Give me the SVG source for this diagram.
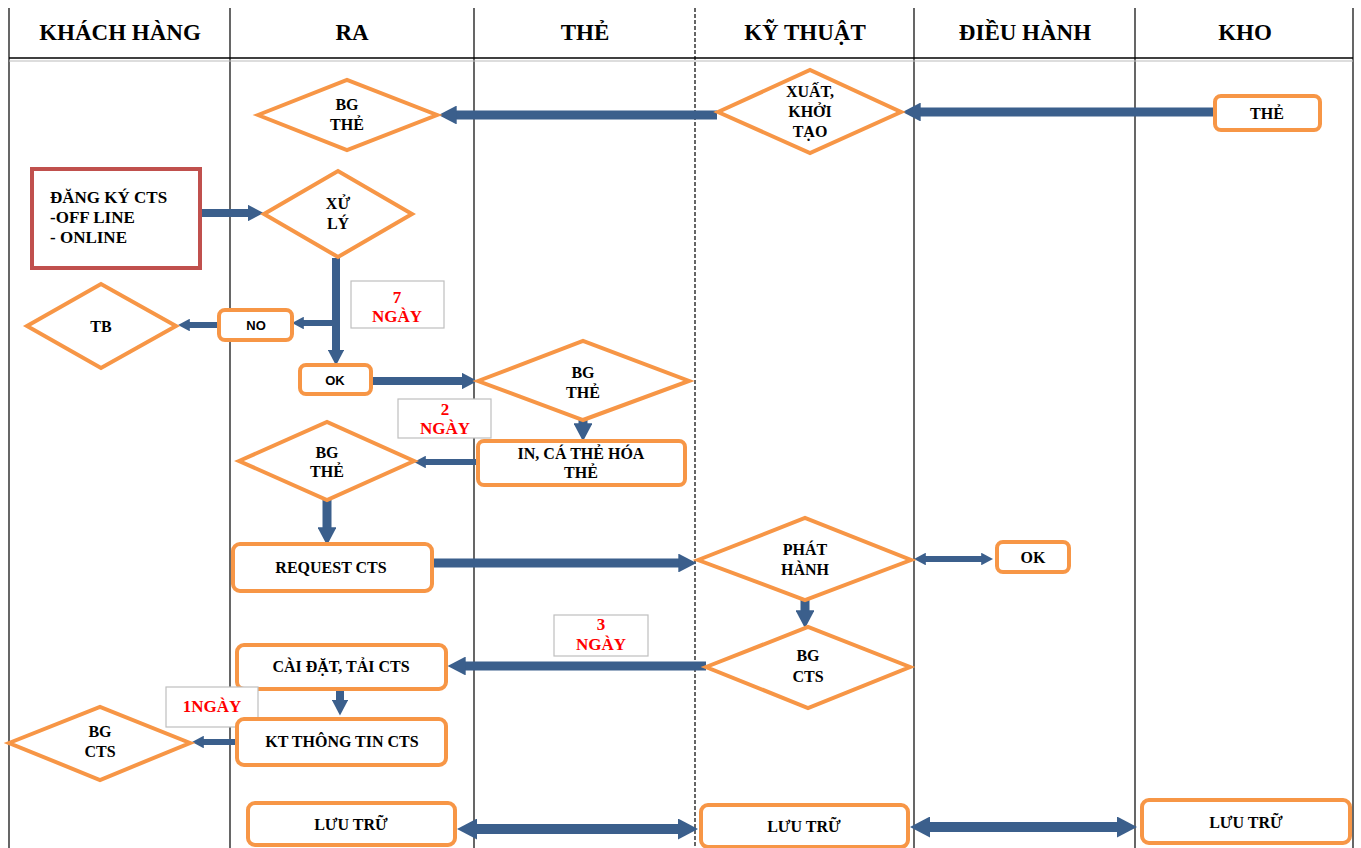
<svg xmlns="http://www.w3.org/2000/svg" width="1361" height="848" viewBox="0 0 1361 848">
<style>
.t{font-family:"Liberation Serif","Times New Roman",serif;font-weight:bold;font-size:16px;fill:#000;text-anchor:middle}
.h{font-size:23px}
.s{font-family:"Liberation Sans",Arial,sans-serif;font-size:13px}
.r{fill:#ff0000;font-size:17px}
.n{fill:#fff;stroke:#f79646;stroke-width:4}
.lb{fill:#fff;stroke:#bfbfbf;stroke-width:1.2}
.lane{stroke:#000;stroke-width:1.2;fill:none}
.a{stroke:#3b5f8c;fill:none;marker-end:url(#ah)}
.d{marker-start:url(#ah)}
</style>
<defs>
<marker id="ah" viewBox="0 0 2 2.1" refX="0.3" refY="1.05" markerWidth="2" markerHeight="2.1" orient="auto-start-reverse"><path d="M0,0 L2,1.05 L0,2.1 z" fill="#3b5f8c"/></marker>
</defs>
<rect width="1361" height="848" fill="#fff"/>
<g id="lanes">
<line class="lane" x1="9" y1="8" x2="9" y2="848"/>
<line class="lane" x1="230" y1="8" x2="230" y2="848"/>
<line class="lane" x1="474" y1="8" x2="474" y2="848"/>
<line class="lane" x1="695" y1="8" x2="695" y2="848" stroke-dasharray="4,2"/>
<line class="lane" x1="914" y1="8" x2="914" y2="848"/>
<line class="lane" x1="1135" y1="8" x2="1135" y2="848"/>
<line class="lane" x1="1353" y1="8" x2="1353" y2="848"/>
<line x1="9" y1="58" x2="1353" y2="58" stroke="#000" stroke-width="1.5"/>
<line x1="9" y1="61" x2="1353" y2="61" stroke="#bbb" stroke-width="1"/>
<text class="t h" x="120" y="40">KHÁCH HÀNG</text>
<text class="t h" x="352" y="40">RA</text>
<text class="t h" x="585" y="40">THẺ</text>
<text class="t h" x="805" y="40">KỸ THUẬT</text>
<text class="t h" x="1025" y="40">ĐIỀU HÀNH</text>
<text class="t h" x="1245" y="40">KHO</text>
</g>
<g id="connectors">
<line class="a" x1="1213" y1="112" x2="918" y2="112" stroke-width="9"/>
<line class="a" x1="717" y1="115" x2="454" y2="115" stroke-width="9"/>
<line class="a" x1="200" y1="213" x2="250" y2="213" stroke-width="8"/>
<line class="a" x1="336" y1="258" x2="336" y2="352" stroke-width="8"/>
<line class="a" x1="334" y1="323" x2="302" y2="323" stroke-width="6"/>
<line class="a" x1="219" y1="325" x2="188" y2="325" stroke-width="6"/>
<line class="a" x1="371" y1="381" x2="464" y2="381" stroke-width="8"/>
<line class="a" x1="583" y1="420" x2="583" y2="426" stroke-width="9"/>
<line class="a" x1="477" y1="462" x2="424" y2="462" stroke-width="6"/>
<line class="a" x1="327" y1="500" x2="327" y2="530" stroke-width="9"/>
<line class="a" x1="432" y1="563" x2="681" y2="563" stroke-width="9"/>
<line class="a d" x1="924" y1="559" x2="983" y2="559" stroke-width="6"/>
<line class="a" x1="805" y1="600" x2="805" y2="613" stroke-width="9"/>
<line class="a" x1="706" y1="666" x2="463" y2="666" stroke-width="9"/>
<line class="a" x1="340" y1="689" x2="340" y2="702" stroke-width="8"/>
<line class="a" x1="237" y1="742" x2="202" y2="742" stroke-width="6"/>
<line class="a d" x1="474" y1="829" x2="681" y2="829" stroke-width="10"/>
<line class="a d" x1="927" y1="827" x2="1120" y2="827" stroke-width="10"/>
</g>
<g id="bg-the-1"><polygon class="n" points="258,115 347,80 437,115 347,150"/><text class="t" x="347" y="110">BG</text><text class="t" x="347" y="130">THẺ</text></g>
<g id="xuat-khoi-tao"><polygon class="n" points="718,112 810,70 901,112 810,153"/><text class="t" x="810" y="97">XUẤT,</text><text class="t" x="810" y="117">KHỞI</text><text class="t" x="810" y="137">TẠO</text></g>
<g id="the-kho"><rect class="n" x="1215" y="96" width="105" height="34" rx="6"/><text class="t" x="1267" y="119">THẺ</text></g>
<g id="dang-ky"><rect x="32" y="169" width="168" height="99" fill="#fff" stroke="#c0504d" stroke-width="4"/><text class="t" x="50" y="203" style="text-anchor:start;font-size:17px">ĐĂNG KÝ CTS</text><text class="t" x="50" y="223" style="text-anchor:start;font-size:17px">-OFF LINE</text><text class="t" x="50" y="243" style="text-anchor:start;font-size:17px">- ONLINE</text></g>
<g id="xu-ly"><polygon class="n" points="264,214 338,171 412,214 338,257"/><text class="t" x="338" y="209">XỬ</text><text class="t" x="338" y="229">LÝ</text></g>
<g id="lbl-7"><rect class="lb" x="351" y="281" width="93" height="47"/><text class="t r" x="397" y="303">7</text><text class="t r" x="397" y="322">NGÀY</text></g>
<g id="no"><rect class="n" x="219" y="310" width="73" height="30" rx="6"/><text class="t s" x="256" y="330">NO</text></g>
<g id="tb"><polygon class="n" points="27,326 101,284 176,326 101,368"/><text class="t" x="101" y="332">TB</text></g>
<g id="ok-ra"><rect class="n" x="300" y="365" width="71" height="29" rx="6"/><text class="t s" x="335" y="385">OK</text></g>
<g id="bg-the-2"><polygon class="n" points="478,381 583,341 689,381 583,420"/><text class="t" x="583" y="378">BG</text><text class="t" x="583" y="398">THẺ</text></g>
<g id="lbl-2"><rect class="lb" x="398" y="399" width="93" height="39"/><text class="t r" x="445" y="415">2</text><text class="t r" x="445" y="434">NGÀY</text></g>
<g id="in-ca-the-hoa"><rect class="n" x="478" y="441" width="207" height="44" rx="6"/><text class="t" x="581" y="459">IN, CÁ THẺ HÓA</text><text class="t" x="581" y="478">THẺ</text></g>
<g id="bg-the-3"><polygon class="n" points="239,461 327,422 414,461 327,500"/><text class="t" x="327" y="458">BG</text><text class="t" x="327" y="477">THẺ</text></g>
<g id="request-cts"><rect class="n" x="233" y="544" width="199" height="47" rx="7"/><text class="t" x="331" y="573">REQUEST CTS</text></g>
<g id="phat-hanh"><polygon class="n" points="698,560 805,518 911,560 805,600"/><text class="t" x="805" y="555">PHÁT</text><text class="t" x="805" y="575">HÀNH</text></g>
<g id="ok-dh"><rect class="n" x="997" y="542" width="72" height="30" rx="6"/><text class="t" x="1033" y="563">OK</text></g>
<g id="lbl-3"><rect class="lb" x="554" y="615" width="94" height="41"/><text class="t r" x="601" y="630">3</text><text class="t r" x="601" y="650">NGÀY</text></g>
<g id="bg-cts-kt"><polygon class="n" points="706,667 808,627 910,667 808,708"/><text class="t" x="808" y="661">BG</text><text class="t" x="808" y="682">CTS</text></g>
<g id="cai-dat"><rect class="n" x="237" y="645" width="209" height="44" rx="7"/><text class="t" x="341" y="672">CÀI ĐẶT, TẢI CTS</text></g>
<g id="lbl-1"><rect class="lb" x="166" y="687" width="92" height="40"/><text class="t r" x="212" y="712">1NGÀY</text></g>
<g id="kt-thong-tin"><rect class="n" x="237" y="719" width="209" height="46" rx="7"/><text class="t" x="342" y="747">KT THÔNG TIN CTS</text></g>
<g id="bg-cts-kh"><polygon class="n" points="9,743 100,707 190,743 100,780"/><text class="t" x="100" y="737">BG</text><text class="t" x="100" y="757">CTS</text></g>
<g id="luu-tru-ra"><rect class="n" x="248" y="803" width="207" height="42" rx="7"/><text class="t" x="351" y="830">LƯU TRỮ</text></g>
<g id="luu-tru-kt"><rect class="n" x="701" y="805" width="207" height="42" rx="7"/><text class="t" x="804" y="832">LƯU TRỮ</text></g>
<g id="luu-tru-kho"><rect class="n" x="1142" y="800" width="208" height="43" rx="7"/><text class="t" x="1246" y="828">LƯU TRỮ</text></g>
</svg>
